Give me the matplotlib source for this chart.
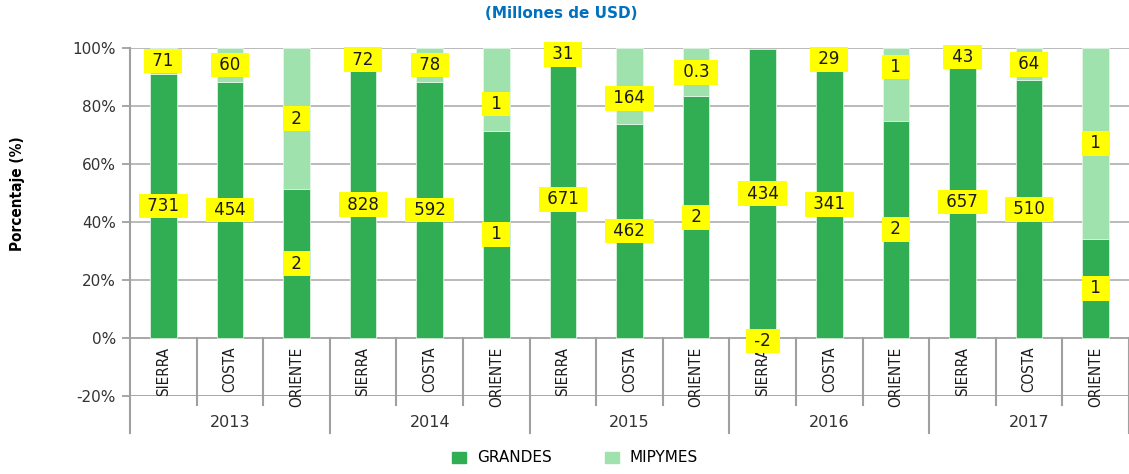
import matplotlib.pyplot as plt
from matplotlib.patches import Patch
from matplotlib import font_manager
import numpy as np

years = ['2013', '2014', '2015', '2016', '2017']
regions = ['SIERRA', 'COSTA', 'ORIENTE']

# millones de USD, one entry per (year, region)
grandes = [731, 454, 2.1, 828, 592, 1.3, 671, 462, 1.6, 434, 341, 2.1, 657, 510, 0.7]
mipymes = [71, 60, 2.0, 72, 78, 0.52, 31, 164, 0.32, -2, 29, 0.7, 43, 64, 1.35]

# hand nudges for a few mipymes labels (percentage points)
mip_label_nudge = {5: -5.0, 7: -4.3, 9: -0.8, 11: 6.0}

c_grandes = '#31AD53'
c_mipymes = '#9FE2AE'
c_grid = '#B4B4B4'
c_axis = '#A0A0A0'

avail = {f.name for f in font_manager.fontManager.ttflist}
if 'Liberation Sans Narrow' in avail:
    narrow = dict(family=['Liberation Sans Narrow', 'DejaVu Sans'])
else:
    narrow = dict(family=['DejaVu Sans'], fontstretch='condensed')


def fmt(v):
    if abs(v) < 0.5:
        return f'{v:.1f}'
    return f'{round(v):.0f}'


g = np.array(grandes, dtype=float)
m = np.array(mipymes, dtype=float)
total = np.abs(g) + np.abs(m)
pg = g / total * 100
pm = m / total * 100
m_bottom = np.where(m >= 0, pg, 0)

n = len(g)
x = np.arange(n) + 0.5

fig = plt.figure(figsize=(11.29, 4.74), dpi=100)
ax = fig.add_axes([130 / 1129, 1 - 396 / 474, 999 / 1129, 348 / 474])
ax.set_xlim(0, n)
ax.set_ylim(-20, 100)

# horizontal gridlines
for yv in range(-20, 101, 20):
    ax.axhline(yv, color=c_grid if yv not in (0, -20) else c_axis, lw=1.3, zorder=0)

ax.bar(x, pg, width=0.4, color=c_grandes, edgecolor='#D8F2DE', linewidth=0.6, zorder=2)
ax.bar(x, pm, width=0.4, bottom=m_bottom, color=c_mipymes, edgecolor='#E2F6E6',
       linewidth=0.6, zorder=2)

box = dict(boxstyle='square,pad=0.2', fc='#FFFF00', ec='none')
for i in range(n):
    ax.text(x[i], pg[i] / 2, f' {fmt(g[i])} ', ha='center', va='center',
            fontsize=12, color='#1A1A1A', bbox=box, zorder=5)
    ym = m_bottom[i] + pm[i] / 2 + mip_label_nudge.get(i, 0)
    ax.text(x[i], ym, f' {fmt(m[i])} ', ha='center', va='center',
            fontsize=12, color='#1A1A1A', bbox=box, zorder=5)

# multi-level category axis
for k in range(n + 1):
    low = -32.8 if k % 3 == 0 else -23.1
    top = 100 if k == 0 else 0
    ax.plot([k, k], [top, low], color=c_axis, lw=1.5, clip_on=False, zorder=3)
for i in range(n):
    ax.text(x[i], -3.0, regions[i % 3], rotation=90, ha='center', va='top',
            fontsize=11, color='#1A1A1A', zorder=4, **narrow)
for j, yr in enumerate(years):
    ax.text(j * 3 + 1.5, -29, yr, ha='center', va='center', fontsize=11.5,
            color='#333333', clip_on=False)

for s in ax.spines.values():
    s.set_visible(False)
ax.set_xticks([])
ax.set_yticks(range(-20, 101, 20))
ax.set_yticklabels([f'{v}%' for v in range(-20, 101, 20)], fontsize=11, color='#333333')
ax.tick_params(axis='y', length=6, width=1.3, color=c_axis, pad=4)

fig.text(18 / 1129, 1 - 194 / 474, 'Porcentaje (%)', rotation=90, ha='center',
         va='center', fontsize=11, fontweight='bold', **narrow)
fig.text(561 / 1129, 1 - 14 / 474, '(Millones de USD)', ha='center', va='center',
         fontsize=11, fontweight='bold', color='#0070C0')

handles = [Patch(color=c_grandes, label='GRANDES'), Patch(color=c_mipymes, label='MIPYMES')]
fig.legend(handles=handles, loc='center', bbox_to_anchor=(575 / 1129, 1 - 458 / 474),
           ncol=2, frameon=False, fontsize=11, handlelength=0.9, handleheight=0.7,
           columnspacing=3.5, handletextpad=0.7)

fig.savefig('out.png', dpi=100)
